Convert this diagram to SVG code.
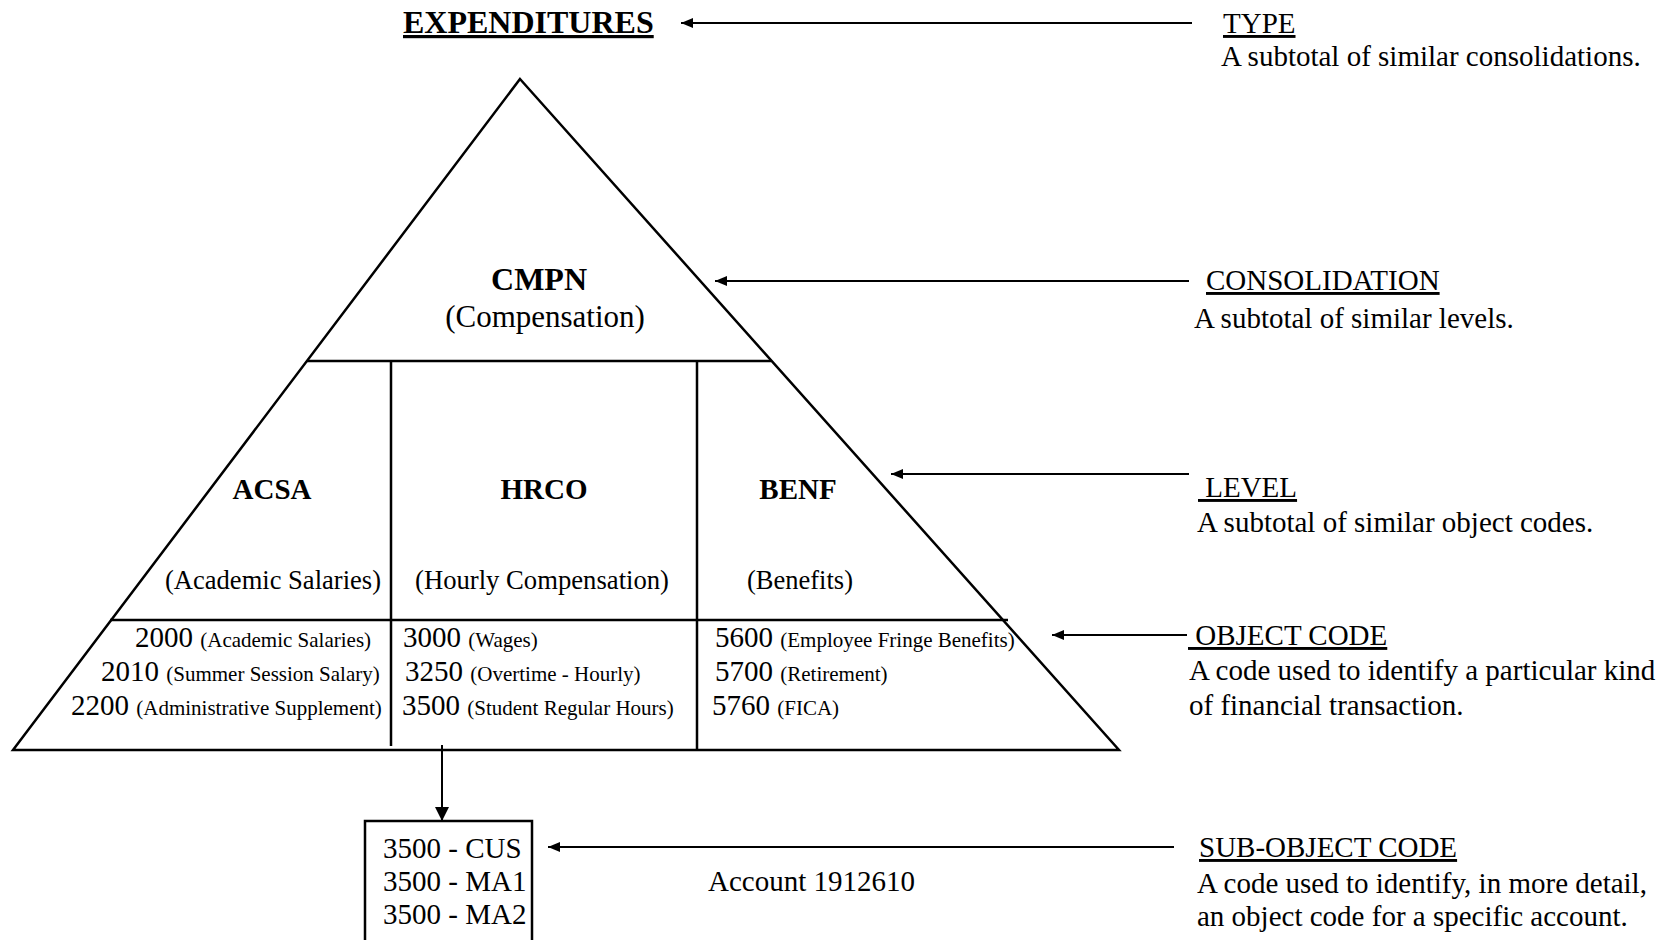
<svg xmlns="http://www.w3.org/2000/svg" width="1679" height="940" viewBox="0 0 1679 940">
<style>
text{font-family:"Liberation Serif","Times New Roman",serif;fill:#000}
.b{font-weight:bold}
.u{text-decoration:underline}
.h{font-size:29px}
.big{font-size:29px}
.sm{font-size:21px}
.ln{stroke:#000;stroke-width:2.5;fill:none}
.ar{stroke:#000;stroke-width:2;fill:none}
</style>
<defs>
<marker id="ah" markerUnits="userSpaceOnUse" markerWidth="14" markerHeight="10" refX="12" refY="5" orient="auto">
<path d="M0,0 L12,5 L0,10 Z" fill="#000"/>
</marker>
<marker id="ahd" markerUnits="userSpaceOnUse" markerWidth="16" markerHeight="16" refX="14" refY="7" orient="auto">
<path d="M0,0 L14,7 L0,14 Z" fill="#000"/>
</marker>
</defs>
<rect width="1679" height="940" fill="#fff"/>

<g id="pyramid">
<polygon class="ln" points="520,79 1119,750 13,750"/>
<line class="ln" x1="307" y1="361" x2="771" y2="361" stroke-width="3"/>
<line class="ln" x1="110" y1="620" x2="1008" y2="620" stroke-width="3"/>
<line class="ln" x1="391" y1="361" x2="391" y2="746"/>
<line class="ln" x1="697" y1="361" x2="697" y2="750"/>
</g>

<g id="title">
<text class="b u" x="403" y="33" font-size="32">EXPENDITURES</text>
</g>

<g id="cmpn">
<text class="b" x="539" y="290" font-size="32" text-anchor="middle">CMPN</text>
<text x="545" y="327" font-size="31" text-anchor="middle">(Compensation)</text>
</g>

<g id="acsa">
<text class="b" x="272" y="499" font-size="29" text-anchor="middle">ACSA</text>
<text x="273" y="589" font-size="27" text-anchor="middle" textLength="216" lengthAdjust="spacingAndGlyphs">(Academic Salaries)</text>
</g>
<g id="hrco">
<text class="b" x="544" y="499" font-size="29" text-anchor="middle">HRCO</text>
<text x="542" y="589" font-size="27" text-anchor="middle" textLength="254" lengthAdjust="spacingAndGlyphs">(Hourly Compensation)</text>
</g>
<g id="benf">
<text class="b" x="798" y="499" font-size="29" text-anchor="middle">BENF</text>
<text x="800" y="589" font-size="27" text-anchor="middle" textLength="106" lengthAdjust="spacingAndGlyphs">(Benefits)</text>
</g>

<g id="codes-acsa">
<text x="135" y="647"><tspan class="big">2000 </tspan><tspan class="sm">(Academic Salaries)</tspan></text>
<text x="101" y="681"><tspan class="big">2010 </tspan><tspan class="sm">(Summer Session Salary)</tspan></text>
<text x="71" y="715"><tspan class="big">2200 </tspan><tspan class="sm">(Administrative Supplement)</tspan></text>
</g>
<g id="codes-hrco">
<text x="403" y="647"><tspan class="big">3000 </tspan><tspan class="sm">(Wages)</tspan></text>
<text x="405" y="681"><tspan class="big">3250 </tspan><tspan class="sm">(Overtime - Hourly)</tspan></text>
<text x="402" y="715"><tspan class="big">3500 </tspan><tspan class="sm">(Student Regular Hours)</tspan></text>
</g>
<g id="codes-benf">
<text x="715" y="647"><tspan class="big">5600 </tspan><tspan class="sm">(Employee Fringe Benefits)</tspan></text>
<text x="715" y="681"><tspan class="big">5700 </tspan><tspan class="sm">(Retirement)</tspan></text>
<text x="712" y="715"><tspan class="big">5760 </tspan><tspan class="sm">(FICA)</tspan></text>
</g>

<g id="subobject-box">
<rect x="365" y="821" width="167" height="140" fill="none" stroke="#000" stroke-width="2.5"/>
<text class="h" x="383" y="858">3500 - CUS</text>
<text class="h" x="383" y="891">3500 - MA1</text>
<text class="h" x="383" y="924">3500 - MA2</text>
</g>

<g id="account">
<text class="h" x="708" y="891">Account 1912610</text>
</g>

<g id="type-label">
<text class="h u" x="1223" y="33">TYPE</text>
<text class="h" x="1221" y="66">A subtotal of similar consolidations.</text>
</g>
<g id="consolidation-label">
<text class="h u" x="1206" y="290">CONSOLIDATION</text>
<text class="h" x="1194" y="328">A subtotal of similar levels.</text>
</g>
<g id="level-label">
<text class="h u" x="1198" y="497" xml:space="preserve" style="white-space:pre"> LEVEL</text>
<text class="h" x="1197" y="532">A subtotal of similar object codes.</text>
</g>
<g id="object-label">
<text class="h u" x="1188" y="645" xml:space="preserve" style="white-space:pre"> OBJECT CODE</text>
<text class="h" x="1189" y="680">A code used to identify a particular kind</text>
<text class="h" x="1189" y="715">of financial transaction.</text>
</g>
<g id="subobject-label">
<text class="h u" x="1199" y="857">SUB-OBJECT CODE</text>
<text class="h" x="1197" y="893">A code used to identify, in more detail,</text>
<text class="h" x="1197" y="926">an object code for a specific account.</text>
</g>

<g id="connectors">
<line class="ar" x1="1192" y1="23" x2="681" y2="23" marker-end="url(#ah)"/>
<line class="ar" x1="1189" y1="281" x2="715" y2="281" marker-end="url(#ah)"/>
<line class="ar" x1="1189" y1="474" x2="891" y2="474" marker-end="url(#ah)"/>
<line class="ar" x1="1187" y1="635" x2="1052" y2="635" marker-end="url(#ah)"/>
<line class="ar" x1="1174" y1="847" x2="548" y2="847" marker-end="url(#ah)"/>
<line class="ar" x1="442" y1="745" x2="442" y2="821" marker-end="url(#ahd)"/>
</g>
</svg>
